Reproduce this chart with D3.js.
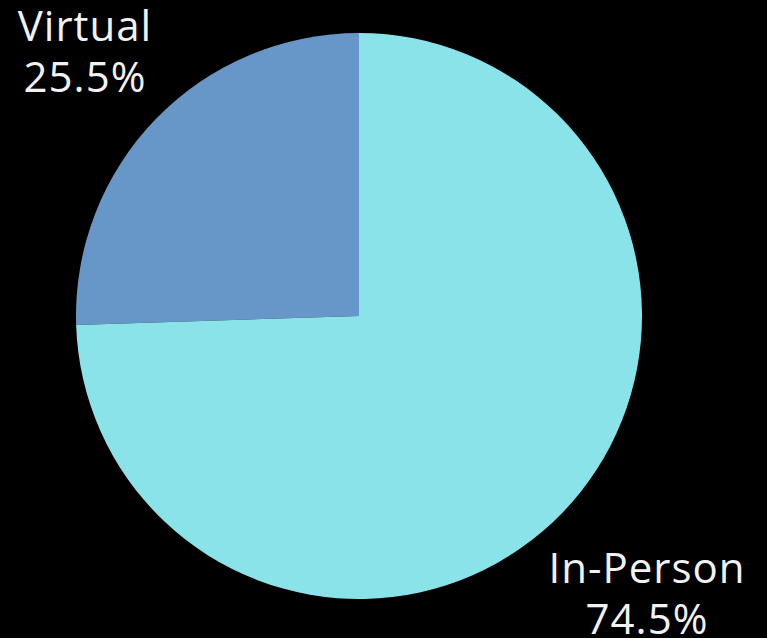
<!DOCTYPE html>
<html>
<head>
<meta charset="utf-8">
<script src="https://cdn.jsdelivr.net/npm/d3@7"></script>
<style>
  html, body { margin: 0; padding: 0; background: #000; }
  svg { display: block; }
</style>
</head>
<body>
<script>
var categories = ["Virtual", "In-Person"];
var shares = [25.5, 74.5];
var colors = ["#6797c8", "#8ae3e8"];

var width = 767, height = 638;
var cx = 359, cy = 316, radius = 283;

var svg = d3.select("body").append("svg")
    .attr("width", width)
    .attr("height", height);

var pie = d3.pie().sort(null).value(d => d.value);
var arc = d3.arc().innerRadius(0).outerRadius(radius);

var data = categories.map((c, i) => ({ name: c, value: shares[i], color: colors[i] }));

var g = svg.append("g").attr("transform", `translate(${cx},${cy})`);

// pie starts at 12 o'clock, Virtual goes counter-clockwise
var arcs = pie.startAngle(0).endAngle(-2 * Math.PI)(data);

g.selectAll("path")
    .data(arcs)
    .join("path")
    .attr("d", arc)
    .attr("fill", d => d.data.color);

// labels
var labelPos = [
    { x: cx - 274, y: 41 },
    { x: cx + 288, y: 583 }
];

svg.append("g")
    .attr("fill", "#f2f2f2")
    .attr("text-anchor", "middle")
    .style("font-family", "'Open Sans', 'Noto Sans', sans-serif")
    .style("font-size", "42px")
    .style("letter-spacing", "1px")
    .selectAll("text")
    .data(data)
    .join("text")
    .attr("x", (d, i) => labelPos[i].x)
    .attr("y", (d, i) => labelPos[i].y)
    .each(function (d, i) {
        var t = d3.select(this);
        t.append("tspan").attr("x", labelPos[i].x).text(d.name);
        t.append("tspan").attr("x", labelPos[i].x).attr("dy", 51).text(d.value + "%");
    });
</script>
</body>
</html>
